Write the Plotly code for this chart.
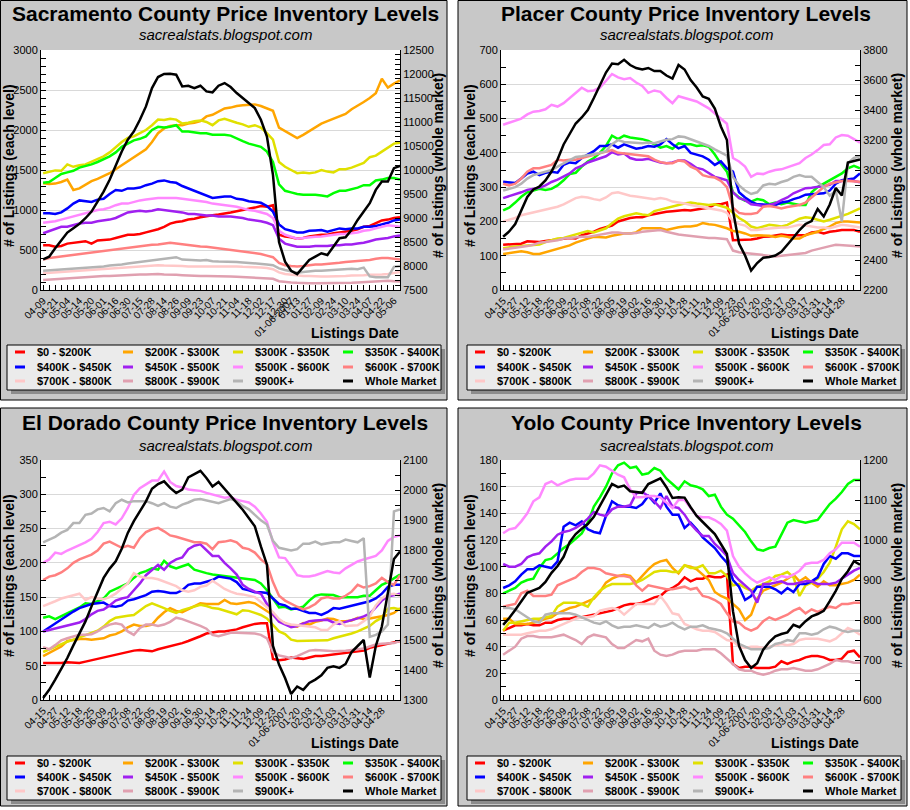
import plotly.graph_objects as go

W, H = 910, 810

SERIES_NAMES = ["$0 - $200K", "$200K - $300K", "$300K - $350K", "$350K - $400K",
                "$400K - $450K", "$450K - $500K", "$500K - $600K", "$600K - $700K",
                "$700K - $800K", "$800K - $900K", "$900K+", "Whole Market"]
SERIES_COLORS = ["#ff0000", "#ffa500", "#e0e000", "#00ff00", "#0000ff", "#a020f0",
                 "#ff88ff", "#ff8080", "#ffc8c8", "#e0a0b0", "#b4b4b4", "#000000"]

SAC_LABELS = ["04-09", "04-21", "05-04", "05-14", "05-20", "06-01", "06-16", "06-30",
              "07-15", "07-28", "08-14", "08-26", "09-09", "09-23", "10-07", "10-21",
              "11-04", "11-18", "12-02", "12-17", "12-30", "01-06-2007", "01-13", "01-27",
              "02-09", "02-24", "03-10", "03-24", "04-07", "04-22", "05-06"]
SAC_LABEL_POS = [0, 2, 4, 6, 8, 10, 12, 14, 16, 18, 20, 22, 24, 26, 28, 30, 32, 34, 36, 38,
                 40, 41, 42, 44, 46, 48, 50, 52, 54, 56, 58]

OTHER_LABELS = ["04-15", "04-27", "05-12", "05-18", "05-25", "06-09", "06-22", "07-08",
                "07-22", "08-05", "08-19", "09-02", "09-16", "09-30", "10-14", "10-28",
                "11-11", "11-24", "12-09", "12-23", "01-06-2007", "01-20", "02-03", "02-17",
                "03-03", "03-17", "03-31", "04-14", "04-28"]
OTHER_LABEL_POS = [0, 2, 4, 6, 8, 10, 12, 14, 16, 18, 20, 22, 24, 26, 28, 30, 32, 34, 36, 38,
                   40, 42, 44, 46, 48, 50, 52, 54, 56]

# ---------------- Sacramento ----------------
sac_0_200k = [560, 560, 540, 550, 580, 590, 600, 610, 580, 620,
              625, 630, 650, 670, 690, 690, 700, 720, 740, 760,
              790, 830, 850, 860, 880, 890, 910, 925, 935, 945,
              955, 970, 985, 1000, 1010, 1030, 1050, 1040, 1060, 690,
              670, 660, 640, 650, 670, 680, 690, 690, 710, 720,
              730, 740, 760, 790, 800, 840, 870, 880, 900, 910]
sac_200_300k = [1335, 1325, 1330, 1350, 1380, 1250, 1270, 1320, 1360, 1390,
                1420, 1460, 1510, 1560, 1610, 1660, 1700, 1760, 1850, 1960,
                2020, 2050, 2060, 2060, 2080, 2090, 2110, 2170, 2190, 2230,
                2270, 2280, 2300, 2310, 2315, 2320, 2300, 2270, 2240, 2030,
                1990, 1950, 1900, 1940, 1990, 2040, 2080, 2110, 2140, 2180,
                2200, 2260, 2300, 2350, 2400, 2460, 2640, 2530, 2580, 2620]
sac_300_350k = [1460, 1480, 1495, 1490, 1570, 1540, 1560, 1570, 1600, 1630,
                1670, 1720, 1790, 1850, 1900, 1920, 1960, 2000, 2060, 2130,
                2125, 2140, 2130, 2080, 2090, 2110, 2120, 2100, 2060, 2120,
                2140, 2110, 2090, 2070, 2040, 2060, 2030, 1960, 1880, 1600,
                1540, 1500, 1460, 1470, 1460, 1470, 1500, 1480, 1470, 1510,
                1510, 1530, 1560, 1590, 1660, 1680, 1730, 1780, 1830, 1840]
sac_350_400k = [1340, 1350, 1400, 1450, 1470, 1490, 1530, 1550, 1570, 1600,
                1630, 1670, 1720, 1790, 1830, 1870, 1890, 1920, 2000, 2040,
                2030, 2040, 2060, 1980, 1980, 1970, 1960, 1960, 1940, 1940,
                1940, 1930, 1890, 1860, 1830, 1810, 1790, 1730, 1600, 1320,
                1240, 1220, 1200, 1190, 1190, 1190, 1180, 1170, 1210, 1240,
                1240, 1260, 1280, 1310, 1310, 1370, 1380, 1400, 1400, 1380]
sac_400_450k = [960, 960, 950, 970, 1020, 1080, 1120, 1110, 1100, 1130,
                1140, 1200, 1250, 1240, 1270, 1270, 1280, 1310, 1330, 1360,
                1370, 1350, 1340, 1300, 1270, 1240, 1200, 1170, 1150, 1160,
                1170, 1170, 1140, 1130, 1110, 1100, 1090, 1050, 980, 820,
                760, 740, 720, 720, 740, 745, 750, 730, 750, 770,
                760, 770, 770, 790, 790, 800, 820, 840, 870, 880]
sac_450_500k = [710, 740, 770, 790, 790, 810, 830, 840, 840, 860,
                870, 880, 900, 940, 970, 980, 990, 980, 990, 1010,
                1000, 990, 980, 970, 950, 950, 940, 930, 930, 920,
                920, 920, 910, 900, 880, 870, 860, 840, 810, 640,
                580, 560, 540, 540, 540, 550, 550, 550, 560, 560,
                570, 570, 580, 590, 610, 630, 640, 650, 670, 680]
sac_500_600k = [840, 850, 860, 880, 900, 920, 940, 960, 980, 1000,
                1010, 1030, 1060, 1080, 1080, 1100, 1120, 1130, 1140, 1150,
                1150, 1150, 1150, 1140, 1130, 1120, 1110, 1100, 1080, 1070,
                1060, 1050, 1040, 1020, 1000, 990, 970, 950, 900, 740,
                690, 660, 640, 650, 660, 665, 670, 680, 690, 700,
                700, 710, 720, 740, 750, 770, 790, 810, 800, 790]
sac_600_700k = [380, 400, 410, 420, 430, 440, 450, 460, 470, 480,
                490, 500, 510, 520, 530, 540, 550, 555, 565, 570,
                580, 590, 580, 570, 560, 550, 545, 540, 530, 520,
                510, 500, 490, 480, 475, 465, 450, 430, 410, 340,
                310, 300, 295, 300, 310, 320, 320, 325, 335, 340,
                350, 355, 360, 370, 375, 390, 400, 400, 390, 380]
sac_700_800k = [210, 215, 220, 230, 235, 240, 245, 250, 255, 260,
                265, 270, 275, 280, 285, 290, 295, 300, 305, 310,
                305, 305, 300, 300, 295, 295, 300, 300, 295, 295,
                295, 300, 295, 290, 290, 285, 280, 275, 260, 220,
                200, 190, 180, 175, 175, 170, 170, 170, 170, 175,
                175, 180, 180, 185, 190, 190, 195, 200, 215, 225]
sac_800_900k = [125, 130, 135, 140, 150, 155, 160, 165, 170, 170,
                175, 175, 180, 185, 185, 190, 195, 195, 200, 200,
                195, 195, 190, 185, 180, 180, 175, 175, 175, 175,
                170, 170, 165, 160, 160, 155, 150, 145, 140, 110,
                100, 95, 90, 85, 85, 85, 85, 85, 85, 85,
                85, 90, 95, 100, 105, 110, 115, 115, 110, 105]
sac_900k_plus = [240, 245, 250, 255, 265, 270, 275, 280, 285, 290,
                 295, 305, 310, 320, 330, 340, 350, 360, 370, 380,
                 390, 395, 410, 380, 375, 375, 370, 375, 360, 355,
                 355, 355, 350, 345, 340, 335, 330, 320, 310, 270,
                 250, 230, 215, 225, 235, 240, 240, 245, 250, 250,
                 255, 265, 260, 280, 170, 160, 160, 160, 290, 300]
sac_whole = [8140, 8195, 8370, 8543, 8696, 8787, 8877, 8995, 9134, 9343,
             9551, 9795, 10108, 10386, 10630, 10803, 11047, 11325, 11707, 11937,
             12000, 12006, 11985, 11742, 11756, 11707, 11756, 11638, 11617, 11756,
             11811, 11728, 11603, 11499, 11394, 11290, 11047, 10699, 9900, 8500,
             8090, 7900, 7830, 7990, 8126, 8195, 8265, 8230, 8404, 8578,
             8599, 8752, 8960, 9134, 9308, 9586, 9760, 9760, 10038, 10087]

# ---------------- Placer ----------------
pl_0_200k = [132, 133, 132, 135, 142, 142, 140, 143, 145, 147,
             150, 152, 150, 160, 165, 170, 178, 183, 188, 200,
             205, 210, 212, 212, 218, 222, 225, 228, 230, 232,
             233, 232, 236, 238, 240, 250, 250, 255, 145, 145,
             146, 147, 150, 155, 156, 160, 162, 160, 160, 160,
             160, 168, 170, 165, 170, 172, 175, 175, 175, 170]
pl_200_300k = [105, 108, 112, 113, 110, 105, 105, 110, 115, 118,
               125, 130, 138, 145, 150, 155, 155, 153, 158, 162,
               165, 165, 168, 180, 180, 178, 180, 175, 180, 183,
               185, 185, 188, 195, 192, 190, 185, 180, 172, 170,
               165, 158, 160, 160, 158, 155, 158, 155, 150, 150,
               160, 165, 170, 178, 185, 195, 200, 200, 198, 197]
pl_300_350k = [122, 125, 127, 128, 130, 131, 133, 140, 145, 150,
               152, 157, 162, 168, 172, 168, 173, 180, 195, 208,
               215, 220, 224, 220, 218, 230, 235, 240, 243, 248,
               252, 255, 252, 250, 248, 250, 245, 240, 225, 210,
               200, 185, 180, 185, 190, 188, 185, 190, 200, 208,
               212, 210, 205, 200, 205, 210, 215, 222, 230, 238]
pl_350_400k = [232, 240, 255, 272, 285, 290, 295, 292, 295, 305,
               320, 338, 342, 360, 375, 385, 400, 420, 450, 440,
               450, 445, 443, 440, 435, 425, 415, 420, 412, 428,
               425, 425, 420, 422, 418, 395, 368, 345, 285, 270,
               260, 258, 265, 262, 250, 255, 250, 255, 252, 248,
               248, 285, 300, 310, 320, 330, 340, 355, 362, 355]
pl_400_450k = [316, 315, 312, 325, 340, 345, 335, 342, 345, 342,
               365, 372, 370, 385, 395, 405, 420, 420, 425, 415,
               425, 418, 412, 415, 420, 418, 425, 440, 425, 413,
               420, 400, 395, 390, 380, 365, 375, 355, 345, 285,
               270, 258, 250, 250, 250, 248, 255, 258, 265, 270,
               278, 280, 280, 282, 290, 310, 320, 322, 325, 340]
pl_450_500k = [268, 273, 278, 285, 292, 295, 298, 305, 315, 322,
               330, 340, 355, 362, 372, 378, 382, 390, 402, 395,
               398, 385, 380, 380, 383, 378, 372, 370, 372, 378,
               378, 368, 356, 352, 340, 330, 325, 320, 285, 268,
               262, 250, 248, 245, 248, 253, 262, 270, 282, 290,
               297, 298, 300, 303, 307, 318, 318, 320, 318, 314]
pl_500_600k = [482, 488, 495, 500, 512, 520, 522, 527, 540, 535,
               545, 560, 575, 590, 580, 582, 590, 610, 630, 620,
               615, 618, 605, 595, 575, 582, 578, 560, 545, 565,
               560, 555, 550, 540, 530, 515, 500, 485, 385, 375,
               360, 330, 340, 338, 345, 350, 352, 358, 362, 370,
               385, 395, 408, 423, 425, 445, 452, 450, 440, 430]
pl_600_700k = [310, 305, 310, 325, 345, 355, 355, 360, 365, 380,
               378, 380, 380, 385, 390, 395, 400, 403, 408, 400,
               398, 396, 393, 390, 390, 380, 373, 370, 370, 378,
               375, 360, 352, 335, 330, 328, 318, 300, 240, 225,
               222, 222, 225, 243, 245, 242, 238, 242, 245, 248,
               255, 270, 285, 300, 310, 315, 318, 318, 318, 316]
pl_700_800k = [200, 205, 210, 218, 222, 228, 230, 235, 240, 243,
               250, 260, 268, 272, 270, 265, 262, 270, 282, 285,
               280, 275, 273, 270, 268, 265, 268, 265, 258, 256,
               252, 248, 245, 240, 238, 235, 232, 225, 200, 192,
               188, 175, 175, 178, 180, 180, 182, 182, 185, 190,
               188, 185, 182, 182, 180, 185, 190, 188, 185, 182]
pl_800_900k = [118, 120, 122, 125, 128, 132, 138, 140, 142, 145,
               150, 152, 152, 155, 155, 158, 162, 165, 168, 168,
               165, 165, 166, 170, 172, 175, 175, 170, 165, 162,
               160, 158, 155, 152, 152, 152, 150, 148, 115, 110,
               108, 106, 105, 102, 100, 98, 100, 102, 103, 105,
               108, 115, 120, 123, 128, 132, 130, 128, 128, 127]
pl_900k_plus = [290, 295, 300, 310, 325, 335, 340, 345, 350, 360,
                370, 378, 388, 390, 392, 396, 400, 405, 425, 437,
                432, 430, 428, 428, 430, 428, 433, 438, 440, 448,
                446, 440, 432, 426, 420, 410, 400, 392, 330, 305,
                290, 280, 285, 305, 310, 308, 315, 320, 330, 335,
                330, 330, 315, 300, 275, 290, 200, 370, 385, 390]
pl_whole = [2555, 2590, 2640, 2730, 2820, 2870, 2890, 2930, 2990, 3070,
            3170, 3240, 3310, 3350, 3400, 3480, 3570, 3650, 3710, 3705,
            3735, 3700, 3680, 3670, 3680, 3660, 3660, 3630, 3610, 3700,
            3670, 3600, 3550, 3490, 3475, 3410, 3290, 3200, 2730, 2510,
            2430, 2330, 2380, 2415, 2420, 2430, 2455, 2500, 2550, 2600,
            2640, 2660, 2740, 2690, 2770, 2880, 2830, 3050, 3060, 3070]

# ---------------- El Dorado ----------------
ed_0_200k = [54, 54, 53, 54, 55, 55, 54, 56, 58, 61,
             62, 64, 67, 69, 70, 72, 73, 72, 71, 74,
             76, 78, 80, 83, 86, 89, 93, 97, 99, 100,
             100, 101, 103, 106, 109, 111, 112, 112, 60, 58,
             59, 62, 61, 60, 62, 64, 64, 65, 66, 68,
             69, 69, 71, 72, 76, 78, 79, 81, 83, 86]
ed_200_300k = [64, 69, 73, 78, 86, 88, 89, 89, 88, 89,
               90, 94, 96, 100, 106, 110, 108, 108, 110, 120,
               128, 134, 130, 128, 132, 137, 141, 140, 140, 140,
               146, 141, 140, 141, 143, 141, 135, 130, 124, 116,
               112, 108, 107, 112, 110, 114, 116, 119, 118, 115,
               115, 116, 120, 118, 119, 120, 122, 124, 127, 134]
ed_300_350k = [70, 74, 77, 81, 85, 88, 91, 94, 97, 101,
               107, 115, 120, 122, 123, 124, 130, 137, 141, 138,
               134, 130, 127, 131, 134, 137, 139, 137, 134, 133,
               130, 127, 125, 131, 130, 127, 124, 119, 110, 100,
               96, 88, 86, 86, 86, 86, 86, 87, 90, 92,
               94, 97, 100, 104, 108, 115, 120, 133, 134, 132]
ed_350_400k = [120, 122, 118, 122, 127, 130, 135, 141, 140, 144,
               148, 158, 162, 166, 170, 178, 185, 188, 192, 190,
               203, 195, 192, 195, 198, 190, 187, 185, 183, 182,
               181, 180, 178, 178, 177, 175, 170, 160, 148, 135,
               136, 132, 134, 136, 145, 152, 154, 154, 153, 150,
               150, 149, 150, 152, 152, 160, 168, 172, 178, 183]
ed_400_450k = [100, 106, 112, 118, 124, 129, 134, 137, 140, 141,
               142, 137, 136, 138, 145, 147, 150, 153, 158, 159,
               158, 156, 156, 160, 168, 170, 170, 172, 175, 180,
               178, 177, 172, 162, 160, 157, 157, 156, 148, 140,
               138, 133, 133, 130, 127, 127, 124, 128, 134, 133,
               135, 137, 140, 142, 144, 148, 155, 165, 168, 168]
ed_450_500k = [100, 102, 104, 107, 109, 111, 113, 118, 125, 130,
               132, 138, 145, 148, 150, 160, 170, 182, 190, 197,
               190, 200, 205, 208, 220, 225, 227, 218, 210, 210,
               200, 192, 183, 168, 162, 158, 155, 140, 125, 114,
               110, 106, 108, 112, 115, 116, 117, 117, 113, 111,
               114, 116, 119, 122, 126, 135, 145, 151, 153, 155]
ed_500_600k = [200, 205, 215, 213, 218, 222, 225, 230, 235, 245,
               258, 260, 256, 265, 280, 299, 309, 315, 320, 320,
               333, 318, 312, 310, 307, 306, 305, 302, 300, 298,
               295, 296, 292, 290, 288, 282, 272, 260, 230, 208,
               207, 195, 182, 180, 180, 182, 185, 188, 186, 185,
               192, 197, 202, 205, 208, 210, 218, 232, 238, 240]
ed_600_700k = [175, 180, 182, 186, 192, 200, 205, 208, 212, 218,
               228, 231, 226, 222, 225, 222, 236, 245, 249, 251,
               246, 240, 238, 235, 232, 230, 230, 228, 220, 230,
               231, 233, 230, 222, 220, 215, 205, 198, 172, 152,
               145, 140, 136, 132, 135, 140, 148, 150, 148, 148,
               152, 158, 168, 164, 166, 170, 178, 172, 168, 182]
ed_700_800k = [137, 140, 144, 148, 150, 153, 155, 146, 150, 148,
               147, 150, 155, 163, 170, 185, 180, 178, 178, 176,
               173, 170, 166, 160, 158, 160, 165, 167, 174, 168,
               162, 158, 155, 154, 152, 150, 143, 135, 128, 118,
               112, 110, 109, 107, 107, 106, 102, 102, 110, 115,
               108, 108, 109, 115, 122, 138, 148, 154, 155, 152]
ed_800_900k = [77, 74, 80, 87, 90, 93, 95, 95, 96, 100,
               106, 110, 112, 110, 100, 95, 105, 110, 110, 108,
               110, 114, 120, 118, 115, 112, 108, 104, 95, 93,
               96, 98, 98, 98, 98, 97, 95, 90, 70, 65,
               63, 61, 64, 68, 72, 73, 73, 72, 71, 71,
               72, 73, 74, 75, 78, 81, 82, 82, 83, 86]
ed_900k_plus = [230, 234, 238, 244, 248, 258, 258, 270, 272, 278,
                280, 275, 287, 292, 288, 290, 290, 290, 287, 283,
                287, 282, 280, 285, 288, 292, 293, 291, 290, 287,
                290, 293, 290, 283, 278, 270, 262, 256, 232, 222,
                220, 218, 220, 228, 228, 231, 227, 229, 230, 230,
                234, 232, 230, 236, 92, 95, 100, 110, 275, 278]
ed_whole = [1307, 1334, 1368, 1404, 1440, 1482, 1523, 1562, 1612, 1657,
            1707, 1738, 1762, 1804, 1857, 1896, 1927, 1962, 2004, 2020,
            2029, 2007, 1990, 2001, 2042, 2053, 2064, 2040, 2012, 2027,
            2004, 1982, 1960, 1934, 1907, 1879, 1812, 1751, 1480, 1418,
            1373, 1320, 1345, 1334, 1357, 1368, 1382, 1407, 1412, 1407,
            1420, 1460, 1480, 1500, 1375, 1480, 1545, 1660, 1770, 1795]

# ---------------- Yolo ----------------
yo_0_200k = [52, 54, 56, 56, 57, 56, 56, 58, 58, 60,
             61, 61, 62, 62, 63, 64, 65, 66, 67, 69,
             71, 72, 72, 73, 75, 77, 78, 82, 84, 87,
             92, 89, 91, 91, 93, 92, 92, 94, 27, 24,
             25, 25, 24, 24, 24, 25, 29, 27, 29, 30,
             32, 33, 33, 32, 30, 30, 31, 36, 37, 32]
yo_200_300k = [61, 61, 57, 57, 57, 58, 59, 61, 62, 65,
               67, 69, 70, 72, 74, 76, 81, 88, 91, 93,
               94, 93, 88, 93, 98, 102, 104, 105, 99, 95,
               101, 100, 98, 94, 90, 81, 78, 76, 72, 68,
               60, 64, 76, 82, 84, 86, 88, 91, 94, 89,
               92, 88, 85, 89, 86, 86, 87, 88, 90, 94]
yo_300_350k = [52, 58, 58, 59, 60, 61, 61, 62, 63, 70,
               73, 73, 73, 72, 70, 77, 82, 85, 87, 87,
               87, 87, 88, 90, 93, 96, 97, 97, 96, 96,
               101, 99, 99, 101, 95, 95, 97, 93, 86, 87,
               84, 82, 85, 87, 89, 93, 94, 96, 92, 78,
               86, 88, 91, 96, 103, 115, 128, 134, 132, 128]
yo_350_400k = [80, 82, 84, 88, 90, 91, 99, 105, 106, 110,
               114, 117, 121, 125, 133, 145, 152, 160, 170, 176,
               178, 174, 175, 169, 170, 174, 172, 166, 162, 158,
               164, 161, 160, 158, 153, 154, 145, 139, 136, 131,
               126, 119, 113, 112, 114, 115, 124, 133, 135, 134,
               133, 134, 135, 141, 147, 151, 156, 162, 165, 165]
yo_400_450k = [84, 86, 89, 94, 98, 98, 101, 100, 99, 104,
               130, 133, 131, 134, 128, 126, 125, 138, 149, 146,
               145, 145, 144, 147, 153, 148, 155, 145, 139, 139,
               129, 133, 128, 122, 118, 114, 108, 103, 90, 85,
               75, 78, 85, 85, 85, 83, 80, 84, 81, 87,
               87, 89, 92, 102, 108, 106, 110, 110, 108, 108]
yo_450_500k = [102, 100, 100, 102, 107, 109, 110, 115, 119, 124,
               126, 127, 129, 132, 136, 141, 139, 138, 143, 145,
               145, 146, 155, 156, 153, 149, 144, 153, 145, 144,
               139, 132, 127, 123, 123, 117, 113, 108, 95, 90,
               86, 82, 73, 87, 87, 88, 89, 87, 87, 88,
               89, 89, 87, 87, 87, 88, 91, 94, 97, 99]
yo_500_600k = [125, 128, 129, 134, 140, 149, 152, 162, 164, 161,
               163, 165, 166, 166, 166, 170, 176, 175, 172, 169,
               167, 158, 152, 152, 153, 153, 152, 148, 144, 150,
               150, 144, 138, 137, 137, 135, 132, 127, 108, 100,
               95, 91, 88, 90, 92, 90, 93, 92, 94, 97,
               102, 103, 103, 105, 110, 113, 118, 118, 118, 115]
yo_600_700k = [70, 71, 72, 80, 82, 78, 78, 78, 79, 86,
               88, 90, 92, 96, 99, 99, 98, 95, 94, 93,
               93, 92, 86, 82, 86, 85, 84, 83, 83, 84,
               85, 83, 84, 78, 77, 75, 72, 65, 59, 58,
               54, 52, 54, 59, 62, 60, 62, 64, 67, 69,
               65, 68, 66, 68, 70, 69, 72, 72, 73, 73]
yo_700_800k = [49, 49, 49, 49, 50, 51, 52, 52, 53, 55,
               57, 59, 61, 62, 62, 63, 67, 68, 69, 68,
               64, 68, 72, 72, 72, 72, 78, 72, 65, 64,
               57, 55, 53, 52, 52, 51, 48, 45, 44, 40,
               39, 40, 40, 39, 40, 41, 42, 41, 42, 45,
               46, 46, 46, 45, 44, 46, 50, 54, 52, 49]
yo_800_900k = [34, 37, 40, 46, 48, 48, 47, 47, 47, 48,
               49, 47, 45, 42, 47, 49, 48, 47, 42, 39,
               39, 42, 45, 44, 46, 37, 34, 33, 34, 36,
               37, 37, 37, 38, 38, 38, 35, 31, 27, 23,
               22, 22, 20, 19, 20, 22, 23, 23, 24, 23,
               22, 22, 23, 25, 27, 30, 29, 29, 28, 28]
yo_900k_plus = [69, 69, 68, 65, 62, 59, 58, 64, 65, 65,
                65, 65, 64, 62, 60, 58, 57, 59, 56, 54,
                55, 55, 56, 55, 54, 57, 55, 56, 58, 55,
                53, 55, 55, 56, 54, 53, 52, 50, 46, 42,
                40, 38, 38, 38, 39, 42, 43, 45, 44, 50,
                50, 49, 50, 53, 55, 54, 52, 51, 52, 52]
yo_whole = [788, 805, 825, 845, 868, 874, 880, 895, 918, 935,
            958, 995, 1015, 1028, 1040, 1058, 1085, 1112, 1140, 1132,
            1136, 1122, 1120, 1118, 1140, 1146, 1154, 1132, 1105, 1107,
            1106, 1082, 1060, 1045, 1030, 1015, 990, 965, 822, 735,
            700, 680, 692, 726, 745, 759, 765, 769, 788, 782,
            797, 809, 815, 823, 847, 873, 903, 922, 947, 938]

# ---------------- assemble ----------------
PANELS = [
    dict(title="Sacramento County Price Inventory Levels", labels=SAC_LABELS, label_pos=SAC_LABEL_POS,
         levels=[sac_0_200k, sac_200_300k, sac_300_350k, sac_350_400k, sac_400_450k, sac_450_500k,
                 sac_500_600k, sac_600_700k, sac_700_800k, sac_800_900k, sac_900k_plus],
         whole=sac_whole, left=(0, 3000, 500, 100), right=(7500, 12500, 500, 100)),
    dict(title="Placer County Price Inventory Levels", labels=OTHER_LABELS, label_pos=OTHER_LABEL_POS,
         levels=[pl_0_200k, pl_200_300k, pl_300_350k, pl_350_400k, pl_400_450k, pl_450_500k,
                 pl_500_600k, pl_600_700k, pl_700_800k, pl_800_900k, pl_900k_plus],
         whole=pl_whole, left=(0, 700, 100, 50), right=(2200, 3800, 200, 100)),
    dict(title="El Dorado County Price Inventory Levels", labels=OTHER_LABELS, label_pos=OTHER_LABEL_POS,
         levels=[ed_0_200k, ed_200_300k, ed_300_350k, ed_350_400k, ed_400_450k, ed_450_500k,
                 ed_500_600k, ed_600_700k, ed_700_800k, ed_800_900k, ed_900k_plus],
         whole=ed_whole, left=(0, 350, 50, 25), right=(1300, 2100, 100, 50)),
    dict(title="Yolo County Price Inventory Levels", labels=OTHER_LABELS, label_pos=OTHER_LABEL_POS,
         levels=[yo_0_200k, yo_200_300k, yo_300_350k, yo_350_400k, yo_400_450k, yo_450_500k,
                 yo_500_600k, yo_600_700k, yo_700_800k, yo_800_900k, yo_900k_plus],
         whole=yo_whole, left=(0, 180, 20, 10), right=(600, 1200, 100, 50)),
]

# pixel geometry of each panel (layout only)
GEOM = [
    dict(box=(0.5, 447, 0.5, 400), plot=(41, 400, 50, 290), cx=225, ty=13, sy=35, ylx=9, yrx=438, yty=166,
         xtx=401, xty=333, leg=(7, 441, 345, 390), sym=15, txt=35, rows=(352, 367, 381)),
    dict(box=(458, 907, 0.5, 400), plot=(501, 860, 50, 290), cx=686, ty=13, sy=35, ylx=470, yrx=897, yty=166,
         xtx=861, xty=333, leg=(467, 901, 345, 390), sym=475, txt=495, rows=(352, 367, 381)),
    dict(box=(0.5, 447, 408, 806), plot=(41, 400, 460, 700), cx=225, ty=422, sy=445, ylx=9, yrx=438, yty=576,
         xtx=401, xty=743, leg=(7, 441, 756, 800), sym=15, txt=35, rows=(763, 777, 791)),
    dict(box=(458, 907, 408, 806), plot=(501, 860, 460, 700), cx=686, ty=422, sy=445, ylx=470, yrx=897, yty=576,
         xtx=861, xty=743, leg=(467, 901, 756, 800), sym=475, txt=495, rows=(763, 777, 791)),
]
COL_OFFSETS = [0, 108, 218, 328]

FONT = "Liberation Sans, Arial, sans-serif"
NARROW = "Liberation Sans Narrow, Arial Narrow, Liberation Sans, Arial, sans-serif"


def fx(p):
    return p / W


def fy(p):
    return 1 - p / H


fig = go.Figure()
shapes = []
annotations = []
layout = {}

for k, (panel, g) in enumerate(zip(PANELS, GEOM)):
    n = k + 1
    xname = "x" if n == 1 else f"x{n}"
    yname = "y" if n == 1 else f"y{n}"
    y2name = f"y{n + 4}"
    npts = len(panel["whole"])
    xs = list(range(npts))

    for name, color, vals in zip(SERIES_NAMES[:-1], SERIES_COLORS[:-1], panel["levels"]):
        fig.add_trace(go.Scatter(x=xs, y=vals, mode="lines", name=name, showlegend=False,
                                 line=dict(color=color, width=2.5), xaxis=xname, yaxis=yname,
                                 hoverinfo="skip"))
    fig.add_trace(go.Scatter(x=xs, y=panel["whole"], mode="lines", name=SERIES_NAMES[-1],
                             showlegend=False, line=dict(color=SERIES_COLORS[-1], width=2.5),
                             xaxis=xname, yaxis=y2name, hoverinfo="skip"))

    px0, px1, py0, py1 = g["plot"]
    xkey = "xaxis" if n == 1 else f"xaxis{n}"
    ykey = "yaxis" if n == 1 else f"yaxis{n}"
    y2key = f"yaxis{n + 4}"
    layout[xkey] = dict(domain=[fx(px0), fx(px1)], anchor=yname, range=[-0.35, 59.0],
                        tickmode="array", tickvals=panel["label_pos"], ticktext=panel["labels"],
                        tickangle=-45, ticks="inside", ticklen=5, tickcolor="black",
                        minor=dict(dtick=1, tick0=0, ticks="inside", ticklen=5, tickcolor="black"),
                        showline=True, linecolor="black", linewidth=1, showgrid=False,
                        zeroline=False, tickfont=dict(family=NARROW, size=10, color="black"),
                        fixedrange=True, automargin=False)
    lo, hi, dt, mdt = panel["left"]
    layout[ykey] = dict(domain=[fy(py1), fy(py0)], anchor=xname, range=[lo, hi], dtick=dt,
                        tick0=lo, ticks="inside", ticklen=5, tickcolor="black", tickformat="d",
                        minor=dict(dtick=mdt, ticks="inside", ticklen=5, tickcolor="black", showgrid=False),
                        showline=True, linecolor="black", linewidth=1, showgrid=True,
                        gridcolor="#d9d9d9", gridwidth=1, zeroline=False,
                        tickfont=dict(family=NARROW, size=11, color="black"), fixedrange=True,
                        automargin=False)
    lo2, hi2, dt2, mdt2 = panel["right"]
    layout[y2key] = dict(overlaying=yname, side="right", anchor=xname, range=[lo2, hi2], dtick=dt2,
                         tick0=lo2, ticks="inside", ticklen=5, tickcolor="black", tickformat="d",
                         minor=dict(dtick=mdt2, ticks="inside", ticklen=5, tickcolor="black",
                                    showgrid=False),
                         showline=True, linecolor="black", linewidth=1, showgrid=False,
                         zeroline=False, tickfont=dict(family=NARROW, size=11, color="black"),
                         fixedrange=True, automargin=False)

    # panel frame
    bx0, bx1, by0, by1 = g["box"]
    shapes.append(dict(type="rect", xref="paper", yref="paper", x0=fx(bx0), x1=fx(bx1),
                       y0=fy(by1), y1=fy(by0), fillcolor="#c8c8c8",
                       line=dict(color="black", width=1), layer="below"))
    # white plotting area
    shapes.append(dict(type="rect", xref="paper", yref="paper", x0=fx(px0), x1=fx(px1),
                       y0=fy(py1), y1=fy(py0), fillcolor="white",
                       line=dict(width=0), layer="below"))
    # legend box with shadow
    lx0, lx1, ly0, ly1 = g["leg"]
    shapes.append(dict(type="rect", xref="paper", yref="paper", x0=fx(lx0 + 4), x1=fx(lx1 + 4),
                       y0=fy(ly1 + 4), y1=fy(ly0 + 4), fillcolor="#8c8c8c",
                       line=dict(width=0), layer="below"))
    shapes.append(dict(type="rect", xref="paper", yref="paper", x0=fx(lx0), x1=fx(lx1),
                       y0=fy(ly1), y1=fy(ly0), fillcolor="#ebebeb",
                       line=dict(color="black", width=1), layer="below"))
    for i, (name, color) in enumerate(zip(SERIES_NAMES, SERIES_COLORS)):
        row, col = divmod(i, 4)
        ry = g["rows"][row]
        sx = g["sym"] + COL_OFFSETS[col]
        shapes.append(dict(type="line", xref="paper", yref="paper", x0=fx(sx), x1=fx(sx + 10),
                           y0=fy(ry), y1=fy(ry), line=dict(color=color, width=3), layer="below"))
        annotations.append(dict(xref="paper", yref="paper", x=fx(g["txt"] + COL_OFFSETS[col]),
                                y=fy(ry), text=name, showarrow=False, xanchor="left",
                                yanchor="middle",
                                font=dict(family=FONT, size=11, color="black", weight="bold")))

    # titles
    annotations.append(dict(xref="paper", yref="paper", x=fx(g["cx"]), y=fy(g["ty"]),
                            text="<b>" + panel["title"] + "</b>", showarrow=False,
                            xanchor="center", yanchor="middle",
                            font=dict(family=FONT, size=21, color="black")))
    annotations.append(dict(xref="paper", yref="paper", x=fx(g["cx"]), y=fy(g["sy"]),
                            text="<i>sacrealstats.blogspot.com</i>", showarrow=False,
                            xanchor="center", yanchor="middle",
                            font=dict(family=FONT, size=15, color="black")))
    annotations.append(dict(xref="paper", yref="paper", x=fx(g["ylx"]), y=fy(g["yty"]),
                            text="<b># of Listings (each level)</b>", showarrow=False,
                            textangle=-90, xanchor="center", yanchor="middle",
                            font=dict(family=FONT, size=14, color="black")))
    annotations.append(dict(xref="paper", yref="paper", x=fx(g["yrx"]), y=fy(g["yty"]),
                            text="<b># of Listings (whole market)</b>", showarrow=False,
                            textangle=-90, xanchor="center", yanchor="middle",
                            font=dict(family=FONT, size=14, color="black")))
    annotations.append(dict(xref="paper", yref="paper", x=fx(g["xtx"]), y=fy(g["xty"]),
                            text="<b>Listings Date</b>", showarrow=False,
                            xanchor="right", yanchor="middle",
                            font=dict(family=FONT, size=14, color="black")))

fig.update_layout(
    width=W, height=H, autosize=False,
    margin=dict(l=0, r=0, t=0, b=0, pad=0, autoexpand=False),
    paper_bgcolor="white", plot_bgcolor="white",
    showlegend=False, shapes=shapes, annotations=annotations,
    font=dict(family=FONT, color="black"),
    **layout,
)

fig.write_html("out.html", config={"displayModeBar": False},
               post_script="document.body.style.margin='0px';")
